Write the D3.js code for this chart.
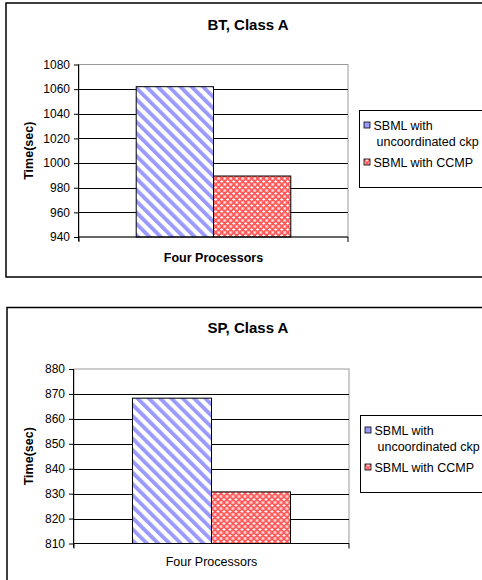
<!DOCTYPE html>
<html>
<head>
<meta charset="utf-8">
<script src="https://cdn.jsdelivr.net/npm/d3@7"></script>
<style>
  body { margin: 0; background: #fff; }
  svg { display: block; font-family: "Liberation Sans", Arial, sans-serif; }
</style>
</head>
<body>
<div id="chart"></div>
<script>
var width = 482,
    height = 580;

// data
var categories = ["Four Processors"];
var seriesNames = ["SBML with uncoordinated ckp", "SBML with CCMP"];
var btValues = [1062, 989.5];
var spValues = [868.3, 830.7];
var btTicks = [940, 960, 980, 1000, 1020, 1040, 1060, 1080];
var spTicks = [810, 820, 830, 840, 850, 860, 870, 880];

var svg = d3.select("#chart")
    .append("svg")
    .attr("width", width)
    .attr("height", height);

var defs = svg.append("defs");

// blue diagonal stripes
var stripe = defs.append("pattern")
    .attr("id", "stripes")
    .attr("patternUnits", "userSpaceOnUse")
    .attr("width", 8)
    .attr("height", 8)
    .attr("patternTransform", "rotate(-45)");
stripe.append("rect").attr("width", 8).attr("height", 8).attr("fill", "#fff");
stripe.append("rect").attr("width", 3.8).attr("height", 8).attr("fill", "#9999ff");

// red check pattern
var check = defs.append("pattern")
    .attr("id", "checks")
    .attr("patternUnits", "userSpaceOnUse")
    .attr("width", 6)
    .attr("height", 6);
check.append("rect").attr("width", 6).attr("height", 6).attr("fill", "#ff5a5a");
check.append("rect").attr("x", 0).attr("y", 1).attr("width", 3).attr("height", 1).attr("fill", "#fff");
check.append("rect").attr("x", 1).attr("y", 0).attr("width", 1).attr("height", 3).attr("fill", "#fff");
check.append("rect").attr("x", 3).attr("y", 3).attr("width", 3).attr("height", 3).attr("fill", "#ffb0b0");
check.append("rect").attr("x", 4).attr("y", 4).attr("width", 1).attr("height", 1).attr("fill", "#fff");

var fills = ["url(#stripes)", "url(#checks)"];

function drawChart(cfg) {
    var g = svg.append("g");

    // outer frame
    g.append("rect")
        .attr("x", cfg.frame[0])
        .attr("y", cfg.frame[1])
        .attr("width", cfg.frame[2])
        .attr("height", cfg.frame[3])
        .attr("fill", "#fff")
        .attr("stroke", "#000")
        .attr("stroke-width", 1.5);

    var y = d3.scaleLinear()
        .domain([cfg.ticks[0], cfg.ticks[cfg.ticks.length - 1]])
        .range([cfg.bottom, cfg.top]);

    var x0 = d3.scaleBand()
        .domain(categories)
        .range([cfg.left, cfg.right])
        .paddingInner(0)
        .paddingOuter(0.37);

    var x1 = d3.scaleBand()
        .domain(seriesNames)
        .range([0, x0.bandwidth()]);

    // plot border
    g.append("rect")
        .attr("x", cfg.left)
        .attr("y", cfg.top)
        .attr("width", cfg.right - cfg.left)
        .attr("height", cfg.bottom - cfg.top)
        .attr("fill", "#fff")
        .attr("stroke", "#999")
        .attr("stroke-width", 1);

    // gridlines
    g.append("g")
        .selectAll("line")
        .data(cfg.ticks.slice(1, -1))
        .enter()
        .append("line")
        .attr("x1", cfg.left)
        .attr("x2", cfg.right)
        .attr("y1", function(d) { return Math.round(y(d)) + 0.5; })
        .attr("y2", function(d) { return Math.round(y(d)) + 0.5; })
        .attr("stroke", "#000")
        .attr("stroke-width", 1);

    // bars
    var bars = g.append("g")
        .selectAll("g")
        .data(categories)
        .enter()
        .append("g")
        .attr("transform", function(d) { return "translate(" + x0(d) + ",0)"; });

    bars.selectAll("rect")
        .data(function() {
            return seriesNames.map(function(s, i) { return { name: s, value: cfg.values[i], i: i }; });
        })
        .enter()
        .append("rect")
        .attr("x", function(d) { return x1(d.name); })
        .attr("y", function(d) { return y(d.value); })
        .attr("width", x1.bandwidth())
        .attr("height", function(d) { return cfg.bottom - y(d.value); })
        .attr("fill", function(d) { return fills[d.i]; })
        .attr("stroke", "#000")
        .attr("stroke-width", 1);

    // y axis
    var yAxis = g.append("g")
        .attr("transform", "translate(" + cfg.left + ",0)")
        .call(d3.axisLeft(y).tickValues(cfg.ticks).tickSize(5).tickPadding(4).tickFormat(d3.format("d")));
    yAxis.select(".domain").attr("stroke", "#000").attr("d", "M-0.5," + (cfg.top) + "V" + (cfg.bottom + 4));
    yAxis.selectAll("text").style("font-size", "12px").attr("fill", "#000");

    // x axis
    var xAxis = g.append("g")
        .attr("transform", "translate(0," + cfg.bottom + ")");
    xAxis.append("line")
        .attr("x1", cfg.left)
        .attr("x2", cfg.right)
        .attr("stroke", "#000")
        .attr("stroke-width", 1.2);
    xAxis.selectAll(".edge")
        .data([cfg.left, cfg.right])
        .enter()
        .append("line")
        .attr("x1", function(d) { return d; })
        .attr("x2", function(d) { return d; })
        .attr("y1", 0)
        .attr("y2", 5)
        .attr("stroke", "#000");
    xAxis.append("text")
        .attr("x", x0("Four Processors") + x0.bandwidth() / 2)
        .attr("y", cfg.xLabelY - cfg.bottom)
        .attr("text-anchor", "middle")
        .style("font-size", "12.5px")
        .style("font-weight", cfg.xBold ? "bold" : "normal")
        .text(categories[0]);

    // y title
    g.append("text")
        .attr("transform", "translate(" + 33 + "," + ((cfg.top + cfg.bottom) / 2) + ") rotate(-90)")
        .attr("text-anchor", "middle")
        .style("font-size", "12.5px")
        .style("font-weight", "bold")
        .text("Time(sec)");

    // title
    g.append("text")
        .attr("x", 248)
        .attr("y", cfg.titleY)
        .attr("text-anchor", "middle")
        .style("font-size", "15px")
        .style("font-weight", "bold")
        .text(cfg.title);

    // legend
    var legend = g.append("g")
        .attr("transform", "translate(" + cfg.legend[0] + "," + cfg.legend[1] + ")");
    legend.append("rect")
        .attr("width", 200)
        .attr("height", 77)
        .attr("fill", "#fff")
        .attr("stroke", "#000");
    var legendLines = [["SBML with", "uncoordinated ckp"], ["SBML with CCMP"]];
    var rowY = [15, 52];
    legendLines.forEach(function(lines, i) {
        legend.append("rect")
            .attr("x", 4.5)
            .attr("y", rowY[i] - 3.5)
            .attr("width", 6)
            .attr("height", 6)
            .attr("fill", i === 0 ? "#9999ff" : "url(#checks)")
            .attr("stroke", "#000")
            .attr("stroke-width", 0.8);
        lines.forEach(function(t, j) {
            legend.append("text")
                .attr("x", j === 0 ? 14 : 17)
                .attr("y", rowY[i] + 4.5 + j * 16)
                .style("font-size", "12.5px")
                .text(t);
        });
    });
}

drawChart({
    frame: [6, 3, 500, 274],
    left: 79, right: 348, top: 64.5, bottom: 237,
    ticks: btTicks, values: btValues,
    title: "BT, Class A", titleY: 30,
    xLabelY: 262, xBold: true,
    legend: [359.5, 110.5]
});

drawChart({
    frame: [7, 307.5, 500, 300],
    left: 74, right: 349, top: 369, bottom: 543.5,
    ticks: spTicks, values: spValues,
    title: "SP, Class A", titleY: 333,
    xLabelY: 566, xBold: false,
    legend: [360.5, 415.5]
});
</script>
</body>
</html>
